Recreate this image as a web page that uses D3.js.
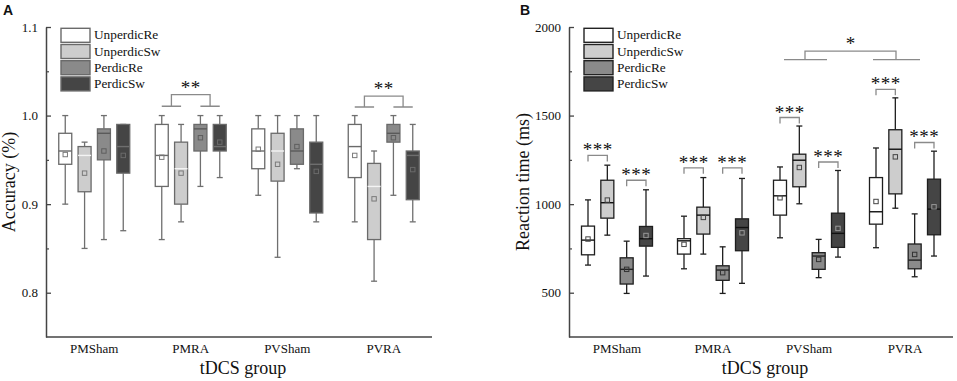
<!DOCTYPE html>
<html>
<head>
<meta charset="utf-8">
<script src="https://cdn.jsdelivr.net/npm/d3@7"></script>
<style>
  html, body { margin: 0; padding: 0; background: #fff; }
  svg { display: block; }
  text { font-family: "Liberation Serif", "Times New Roman", serif; fill: #111; }
</style>
</head>
<body>
<svg id="chart" width="957" height="381"></svg>
<script>
// ---------------- DATA ----------------
const groups = ["PMSham", "PMRA", "PVSham", "PVRA"];
const conditions = ["UnperdicRe", "UnperdicSw", "PerdicRe", "PerdicSw"];

// each entry: [whiskerLow, q1, median, q3, whiskerHigh, mean] for PMSham, PMRA, PVSham, PVRA
const accUnperdicRe = [[0.90, 0.945, 0.96, 0.98, 1.00, 0.956], [0.86, 0.92, 0.955, 0.99, 1.00, 0.953], [0.91, 0.94, 0.96, 0.985, 1.00, 0.962], [0.88, 0.93, 0.965, 0.99, 1.00, 0.955]];
const accUnperdicSw = [[0.85, 0.914, 0.955, 0.965, 0.97, 0.935], [0.88, 0.90, 0.94, 0.97, 0.99, 0.935], [0.84, 0.926, 0.96, 0.98, 1.00, 0.945], [0.813, 0.86, 0.92, 0.946, 0.96, 0.906]];
const accPerdicRe   = [[0.86, 0.95, 0.98, 0.985, 1.00, 0.96], [0.92, 0.96, 0.985, 0.99, 1.00, 0.975], [0.94, 0.945, 0.96, 0.985, 1.00, 0.965], [0.91, 0.97, 0.98, 0.99, 1.00, 0.975]];
const accPerdicSw   = [[0.87, 0.935, 0.965, 0.99, 0.99, 0.955], [0.93, 0.96, 0.965, 0.99, 1.00, 0.97], [0.88, 0.89, 0.945, 0.97, 1.00, 0.937], [0.88, 0.905, 0.955, 0.96, 0.99, 0.939]];

const rtUnperdicRe = [[656, 714, 797, 876, 1024, 803], [635, 718, 793, 805, 932, 773], [810, 938, 1047, 1135, 1210, 1036], [754, 887, 957, 1150, 1317, 1015]];
const rtUnperdicSw = [[825, 921, 1008, 1135, 1220, 1023], [718, 831, 938, 983, 1150, 925], [1002, 1098, 1248, 1282, 1441, 1207], [977, 1058, 1310, 1420, 1600, 1267]];
const rtPerdicRe   = [[496, 549, 632, 697, 791, 632], [496, 570, 628, 652, 759, 613], [585, 632, 707, 726, 801, 688], [590, 635, 684, 775, 945, 716]];
const rtPerdicSw   = [[594, 763, 805, 874, 1081, 823], [553, 737, 868, 917, 1145, 838], [701, 756, 835, 949, 1190, 863], [707, 827, 972, 1141, 1299, 985]];

const accTicks = [0.8, 0.9, 1.0, 1.1];
const accMinorTicks = [0.85, 0.95, 1.05];
const rtTicks = [500, 1000, 1500, 2000];
const rtMinorTicks = [750, 1250, 1750];

// significance: Unperdic pair vs Perdic pair within a group (panel A)
const accSigGroups = ["PMRA", "PVRA"];
const accSigLabels = ["**", "**"];
const accSigTop = [1.0237, 1.022];
const accSigFeet = [1.0105, 1.0097];

// significance within pairs (panel B): group, pair index (0 = Unperdic, 1 = Perdic), bracket level
const rtSigGroups = ["PMSham", "PMSham", "PMRA", "PMRA", "PVSham", "PVSham", "PVRA", "PVRA"];
const rtSigPairs = [0, 1, 0, 1, 0, 1, 0, 1];
const rtSigLevels = [1275, 1135, 1205, 1205, 1489, 1238, 1648, 1348];
const rtSigLabels = ["***", "***", "***", "***", "***", "***", "***", "***"];
// between groups
const rtGroupSig = { a: "PVSham", b: "PVRA", top: 1864, feet: 1816, label: "*" };

// ---------------- STYLE ----------------
const fills = ["#ffffff", "#cdcdcd", "#8a8a8a", "#454545"];

const svg = d3.select("#chart");

function drawPanel(cfg) {
  const g = svg.append("g");
  const x = d3.scaleBand().domain(groups).range([cfg.left, cfg.right]).padding(0);
  const sub = d3.scalePoint().domain(conditions).range([-29, 29]);
  const y = d3.scaleLinear().domain(cfg.domain).range([cfg.bottom, cfg.top]);
  const bw = 13, cap = 6;
  const cx = (grp, c) => x(grp) + x.bandwidth() / 2 + sub(c);

  // axes
  const yAxis = g.append("g").attr("transform", `translate(${cfg.left},0)`)
    .call(d3.axisLeft(y).tickValues(cfg.ticks).tickFormat(cfg.fmt).tickSize(-5).tickSizeOuter(0).tickPadding(8));
  yAxis.select(".domain").attr("stroke", "#444").attr("stroke-width", 1.5);
  yAxis.selectAll(".tick line").attr("stroke", "#444").attr("stroke-width", 1.3);
  yAxis.selectAll("text").attr("font-size", 13).attr("fill", "#111");
  const yMinor = g.append("g").attr("transform", `translate(${cfg.left},0)`)
    .call(d3.axisLeft(y).tickValues(cfg.minor).tickFormat("").tickSize(-3).tickSizeOuter(0));
  yMinor.select(".domain").remove();
  yMinor.selectAll(".tick line").attr("stroke", "#444").attr("stroke-width", 1.2);

  const xAxis = g.append("g").attr("transform", `translate(0,${cfg.bottom})`)
    .call(d3.axisBottom(x).tickSize(0).tickSizeOuter(0).tickPadding(7));
  xAxis.select(".domain").attr("stroke", "#444").attr("stroke-width", 1.5)
    .attr("d", `M${cfg.left},0H${cfg.right}`);
  xAxis.selectAll("text").attr("font-size", 13).attr("fill", "#111");

  // axis titles
  g.append("text").attr("transform", `translate(${cfg.yTitleX},${(cfg.top + cfg.bottom) / 2}) rotate(-90)`)
    .attr("text-anchor", "middle").attr("font-size", 18).text(cfg.yTitle);
  g.append("text").attr("x", (cfg.left + cfg.right) / 2 + 4).attr("y", 374)
    .attr("text-anchor", "middle").attr("font-size", 18).text("tDCS group");

  // panel letter
  g.append("text").attr("x", cfg.letterX).attr("y", 15)
    .style("font-family", "'Liberation Sans', Arial, sans-serif").attr("font-weight", "bold")
    .attr("font-size", 14).text(cfg.letter);

  // boxes
  conditions.forEach((c, ci) => {
    const series = cfg.series[ci];
    groups.forEach((grp, gi) => {
      const [lo, q1, med, q3, hi, mean] = series[gi];
      const xc = cx(grp, c);
      const bg = g.append("g");
      bg.append("line").attr("x1", xc).attr("x2", xc).attr("y1", y(hi)).attr("y2", y(q3))
        .attr("stroke", cfg.whisker).attr("stroke-width", 1.3);
      bg.append("line").attr("x1", xc).attr("x2", xc).attr("y1", y(q1)).attr("y2", y(lo))
        .attr("stroke", cfg.whisker).attr("stroke-width", 1.3);
      bg.append("line").attr("x1", xc - cap / 2).attr("x2", xc + cap / 2).attr("y1", y(hi)).attr("y2", y(hi))
        .attr("stroke", cfg.whisker).attr("stroke-width", 1.3);
      bg.append("line").attr("x1", xc - cap / 2).attr("x2", xc + cap / 2).attr("y1", y(lo)).attr("y2", y(lo))
        .attr("stroke", cfg.whisker).attr("stroke-width", 1.3);
      bg.append("rect").attr("x", xc - bw / 2).attr("y", y(q3)).attr("width", bw).attr("height", y(q1) - y(q3))
        .attr("fill", fills[ci]).attr("stroke", cfg.boxStroke).attr("stroke-width", 1.3);
      bg.append("line").attr("x1", xc - bw / 2).attr("x2", xc + bw / 2).attr("y1", y(med)).attr("y2", y(med))
        .attr("stroke", cfg.median[ci]).attr("stroke-width", 1.4);
      bg.append("rect").attr("x", xc - 2.2).attr("y", y(mean) - 2.2).attr("width", 4.4).attr("height", 4.4)
        .attr("fill", "none").attr("stroke", cfg.meanStroke[ci]).attr("stroke-width", 1);
    });
  });

  // legend
  const lg = g.append("g");
  conditions.forEach((c, i) => {
    const yy = 28.3 + i * 16.2;
    lg.append("rect").attr("x", cfg.left + 15).attr("y", yy).attr("width", 29).attr("height", 14)
      .attr("fill", fills[i]).attr("stroke", cfg.legendStroke).attr("stroke-width", 1.4);
    lg.append("text").attr("x", cfg.left + 48).attr("y", yy + 11).attr("font-size", 13.3).text(c);
  });

  return { g, x, y, cx };
}

// ---------------- PANEL A ----------------
const A = drawPanel({
  left: 46, right: 432, top: 27, bottom: 337,
  domain: [0.75, 1.1], ticks: accTicks, minor: accMinorTicks, fmt: d3.format(".1f"),
  yTitle: "Accuracy (%)", yTitleX: 15, letter: "A", letterX: 3,
  series: [accUnperdicRe, accUnperdicSw, accPerdicRe, accPerdicSw],
  whisker: "#6f6f6f", boxStroke: "#6a6a6a", legendStroke: "#6a6a6a",
  median: ["#6a6a6a", "#f4f4f4", "#5a5a5a", "#6e6e6e"],
  meanStroke: ["#7a7a7a", "#7a7a7a", "#5e5e5e", "#6a6a6a"]
});

accSigGroups.forEach((grp, i) => {
  const y = A.y, cx = A.cx;
  const l1 = cx(grp, conditions[0]), l2 = cx(grp, conditions[1]);
  const r1 = cx(grp, conditions[2]), r2 = cx(grp, conditions[3]);
  const lm = (l1 + l2) / 2, rm = (r1 + r2) / 2;
  const yt = y(accSigTop[i]), yf = y(accSigFeet[i]);
  const path = d3.path();
  path.moveTo(l1, yf); path.lineTo(l2, yf);
  path.moveTo(r1, yf); path.lineTo(r2, yf);
  path.moveTo(lm, yf); path.lineTo(lm, yt); path.lineTo(rm, yt); path.lineTo(rm, yf);
  A.g.append("path").attr("d", path.toString()).attr("fill", "none").attr("stroke", "#8a8a8a").attr("stroke-width", 1.3);
  A.g.append("text").attr("x", (lm + rm) / 2).attr("y", yt - 1).attr("text-anchor", "middle")
    .attr("font-size", 19).attr("fill", "#222").attr("letter-spacing", 0.5).text(accSigLabels[i]);
});

// ---------------- PANEL B ----------------
const B = drawPanel({
  left: 569, right: 953, top: 27, bottom: 337,
  domain: [250, 2000], ticks: rtTicks, minor: rtMinorTicks, fmt: d3.format("d"),
  yTitle: "Reaction time (ms)", yTitleX: 529, letter: "B", letterX: 520,
  series: [rtUnperdicRe, rtUnperdicSw, rtPerdicRe, rtPerdicSw],
  whisker: "#1e1e1e", boxStroke: "#1e1e1e", legendStroke: "#222",
  median: ["#111", "#111", "#222", "#111"],
  meanStroke: ["#444", "#444", "#333", "#999"]
});

rtSigGroups.forEach((grp, i) => {
  const y = B.y, cx = B.cx;
  const a = cx(grp, conditions[rtSigPairs[i] * 2]), b = cx(grp, conditions[rtSigPairs[i] * 2 + 1]);
  const yt = y(rtSigLevels[i]);
  const path = d3.path();
  path.moveTo(a, yt + 6); path.lineTo(a, yt); path.lineTo(b, yt); path.lineTo(b, yt + 6);
  B.g.append("path").attr("d", path.toString()).attr("fill", "none").attr("stroke", "#8a8a8a").attr("stroke-width", 1.3);
  B.g.append("text").attr("x", (a + b) / 2).attr("y", yt + 1).attr("text-anchor", "middle")
    .attr("font-size", 19).attr("fill", "#222").attr("letter-spacing", 0.5).text(rtSigLabels[i]);
});

(function () {
  const y = B.y, x = B.x;
  const ca = x(rtGroupSig.a) + x.bandwidth() / 2, cb = x(rtGroupSig.b) + x.bandwidth() / 2;
  const yt = y(rtGroupSig.top), yf = y(rtGroupSig.feet);
  const path = d3.path();
  path.moveTo(ca - 25, yf); path.lineTo(ca + 18, yf);
  path.moveTo(cb - 32, yf); path.lineTo(cb + 15, yf);
  path.moveTo(ca - 4, yf); path.lineTo(ca - 4, yt); path.lineTo(cb - 9, yt); path.lineTo(cb - 9, yf);
  B.g.append("path").attr("d", path.toString()).attr("fill", "none").attr("stroke", "#8a8a8a").attr("stroke-width", 1.3);
  B.g.append("text").attr("x", (ca - 4 + cb - 9) / 2).attr("y", yt - 1).attr("text-anchor", "middle")
    .attr("font-size", 19).attr("fill", "#222").text(rtGroupSig.label);
})();
</script>
</body>
</html>
